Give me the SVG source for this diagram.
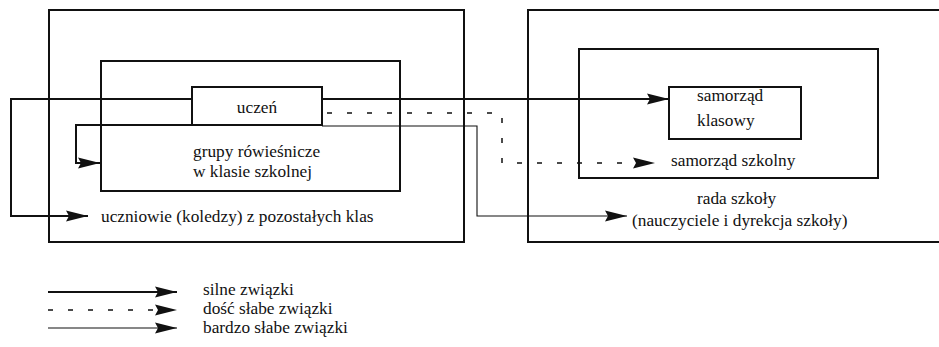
<svg xmlns="http://www.w3.org/2000/svg" width="939" height="347" viewBox="0 0 939 347">
<style>
.box{fill:none;stroke:#111;stroke-width:2}
text{font-family:'Liberation Serif','Times New Roman',serif;font-size:17.3px;fill:#111}
.strong{fill:none;stroke:#111;stroke-width:2}
.thin{fill:none;stroke:#111;stroke-width:1.1}
.dash{fill:none;stroke:#111;stroke-width:1.5;stroke-dasharray:5 15}
</style>
<defs>
<marker id="ah" markerUnits="userSpaceOnUse" markerWidth="23" markerHeight="12" refX="22" refY="6" orient="auto">
<path d="M0,0.5 L22,6 L0,11.5 L3,6 z" fill="#111"/>
</marker>
</defs>
<rect width="939" height="347" fill="#fff"/>
<g id="uczniowie">
<rect class="box" x="49" y="10" width="415" height="232"/>
<text x="101" y="222">uczniowie (koledzy) z pozostałych klas</text>
</g>
<g id="grupy">
<rect class="box" x="101" y="61" width="299" height="130"/>
<text x="193" y="157">grupy rówieśnicze</text>
<text x="193" y="177">w klasie szkolnej</text>
</g>
<g id="uczen">
<rect class="box" x="192" y="87" width="130" height="38"/>
<text x="257" y="113" text-anchor="middle">uczeń</text>
</g>
<g id="rada">
<rect class="box" x="528" y="10" width="420" height="232"/>
<text x="697" y="204">rada szkoły</text>
<text x="632" y="226">(nauczyciele i dyrekcja szkoły)</text>
</g>
<g id="samorzad-szkolny">
<rect class="box" x="579" y="49" width="299" height="129"/>
<text x="671" y="166">samorząd szkolny</text>
</g>
<g id="samorzad-klasowy">
<rect class="box" x="669" y="87" width="132" height="52"/>
<text x="697" y="101">samorząd</text>
<text x="697" y="126">klasowy</text>
</g>
<g id="connectors">
<path class="strong" d="M322,99 L669,99" marker-end="url(#ah)"/>
<path class="strong" d="M192,99 L11,99 L11,216 L88,216" marker-end="url(#ah)"/>
<path class="strong" d="M192,125 L76,125 L76,163 L100,163" marker-end="url(#ah)"/>
<path class="thin" d="M322,126 L477,126 L477,216 L627,216" marker-end="url(#ah)"/>
<path class="dash" d="M327,113 L502,113 L502,163 L655,163" marker-end="url(#ah)"/>
</g>
<g id="legend">
<path class="strong" d="M48,292 L177,292" marker-end="url(#ah)"/>
<path class="dash" d="M48,310 L177,310" marker-end="url(#ah)"/>
<path class="thin" d="M48,328 L177,328" marker-end="url(#ah)"/>
<text x="203" y="295">silne związki</text>
<text x="203" y="314">dość słabe związki</text>
<text x="203" y="333">bardzo słabe związki</text>
</g>
</svg>
